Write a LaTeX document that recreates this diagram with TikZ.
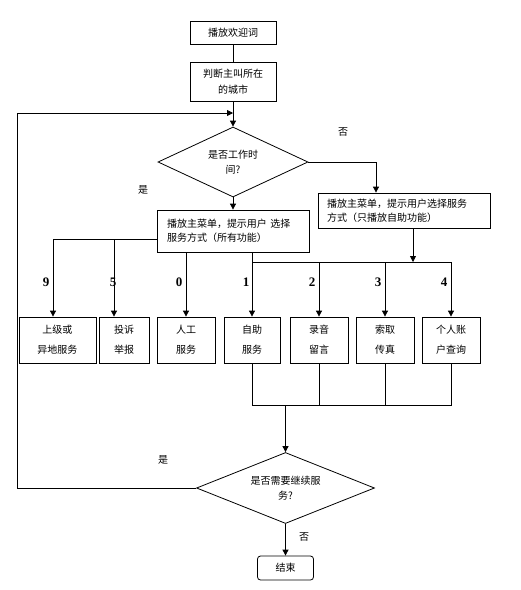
\documentclass[tikz,border=0pt]{standalone}
\usepackage{fontspec}
\newfontfamily\cjk{Noto Sans CJK SC}
\newfontfamily\tms{Liberation Serif}
\usetikzlibrary{shapes.geometric,arrows.meta}
\begin{document}
\begin{tikzpicture}[x=1pt,y=-1pt,
  every node/.style={font=\cjk\fontsize{10}{14}\selectfont, inner sep=0pt},
  box/.style={draw, line width=0.8pt, align=center},
  dia/.style={draw, diamond, line width=0.8pt, align=center, inner sep=0pt},
  num/.style={font=\tms\bfseries\fontsize{13}{14}\selectfont},
  arr/.style={-{Triangle[length=6pt,width=6pt]}},
  line width=0.8pt]
\useasboundingbox (0,0) rectangle (521,590);
\fill[white] (0,0) rectangle (521,590);

\node[box,minimum width=86,minimum height=23] (a) at (233,32.5) {播放欢迎词};
\node[box,minimum width=86,minimum height=39,font=\cjk\fontsize{10}{16}\selectfont] (b) at (233,81.5) {判断主叫所在\\的城市};
\node[dia,minimum width=150,minimum height=70,aspect=2.14,font=\cjk\fontsize{10}{15}\selectfont] (d1) at (233,162) {是否工作时\\间?};
\node[box,minimum width=172,minimum height=35,text width=154,align=left] (r) at (404,210.5) {播放主菜单，提示用户选择服务\\方式（只播放自助功能）};
\node[box,minimum width=152,minimum height=42,text width=132,align=left] (m) at (233,231) {播放主菜单，提示用户 选择\\服务方式（所有功能）};

\tikzset{bb/.style={box,minimum height=46,font=\cjk\fontsize{10}{20}\selectfont}}
\node[bb,minimum width=77] (b9) at (57.5,340) {上级或\\异地服务};
\node[bb,minimum width=50] (b5) at (124,340) {投诉\\举报};
\node[bb,minimum width=58] (b0) at (186,340) {人工\\服务};
\node[bb,minimum width=56] (b1) at (252,340) {自助\\服务};
\node[bb,minimum width=58] (b2) at (319,340) {录音\\留言};
\node[bb,minimum width=58] (b3) at (385,340) {索取\\传真};
\node[bb,minimum width=58] (b4) at (451,340) {个人账\\户查询};

\node[dia,minimum width=178,minimum height=71,aspect=2.5,font=\cjk\fontsize{10}{15}\selectfont] (d2) at (285.5,488) {是否需要继续服\\务?};
\node[box,rounded corners=3pt,minimum width=56,minimum height=24] (e) at (285.5,568) {结束};

% labels
\node (l1) at (343,132) {否};
\node (l2) at (143,190) {是};
\node (l3) at (163,460) {是};
\node (l4) at (304,537) {否};
\node[num] (n9) at (46,282) {9};
\node[num] (n5) at (113,282) {5};
\node[num] (n0) at (179,282) {0};
\node[num] (n1) at (246,282) {1};
\node[num] (n2) at (312,282) {2};
\node[num] (n3) at (378,282) {3};
\node[num] (n4) at (444,282) {4};

% connectors
\draw (a) -- (b);
\draw[arr] (b) -- (d1);
\draw[arr] (d1.east) -| ([xshift=-28pt]r.north);
\draw[arr] (d1) -- (m);

\coordinate (h) at ([yshift=-8pt]m.west);
\coordinate (t9) at ([xshift=-4.5pt]b9.north);
\coordinate (t5) at ([xshift=-10pt]b5.north);
\draw[arr] (h) -| (t9);
\draw[arr] (t5 |- h) -- (t5);
\draw[arr] (m.south -| b0.north) -- (b0.north);
\draw[arr] (m.south -| b1.north) -- (b1.north);

\coordinate (rs) at ([xshift=9pt]r.south);
\coordinate (rj) at (413,262);
\draw[arr] (rs) -- (rj);
\draw (b1.north |- rj) -- (b4.north |- rj);
\draw[arr] (b2.north |- rj) -- (b2.north);
\draw[arr] (b3.north |- rj) -- (b3.north);
\draw[arr] (b4.north |- rj) -- (b4.north);

\coordinate (bj) at (285.5,405);
\draw (b1.south) -- (b1.south |- bj) -- (b4.south |- bj) -- (b4.south);
\draw (b2.south) -- (b2.south |- bj);
\draw (b3.south) -- (b3.south |- bj);
\draw[arr] (bj) -- (d2.north);

\coordinate (lt) at (17,113);
\draw[arr] (d2.west) -| (lt) -- (lt -| b.south);
\draw[arr] (d2) -- (e);
\end{tikzpicture}
\end{document}
